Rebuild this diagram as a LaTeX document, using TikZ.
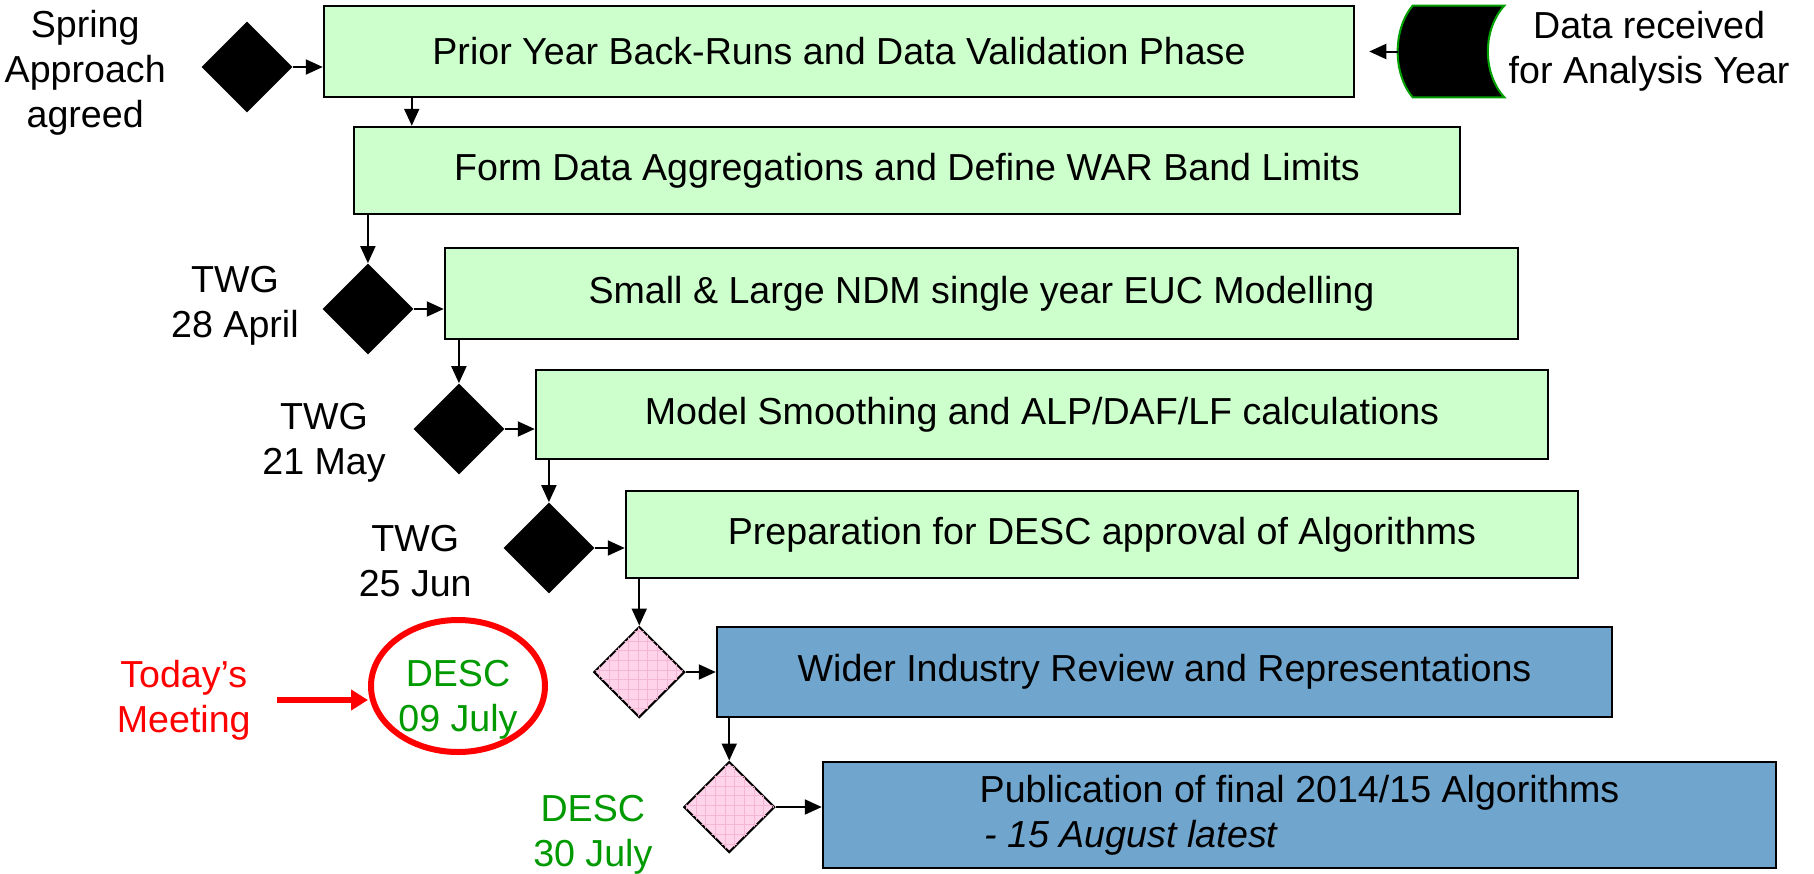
\documentclass[tikz,border=0pt]{standalone}
\usepackage{fontspec}
\setmainfont{Liberation Sans}
\usepackage{xcolor}
\usepackage{tikz}
\usetikzlibrary{arrows.meta,positioning,shapes.geometric,patterns.meta}
\definecolor{stepgreen}{HTML}{CCFFCC}
\definecolor{stepblue}{HTML}{70A6CE}
\definecolor{descgreen}{HTML}{009A00}
\definecolor{alarm}{HTML}{FF0000}
\definecolor{storegreen}{HTML}{00A000}
\definecolor{reviewpink}{HTML}{FFD3EA}
\definecolor{gridpink}{HTML}{F5B5D5}
\tikzset{
  stepbox/.style  ={draw=black,line width=0.05cm,fill=stepgreen,minimum height=1.8cm,
                    inner sep=0pt,align=center},
  bluebox/.style  ={stepbox,fill=stepblue},
  gate/.style     ={diamond,fill=black,minimum width=1.82cm,minimum height=1.82cm,
                    inner sep=0pt},
  pinkgate/.style ={gate,draw=black,line width=0.04cm,fill=reviewpink,
                    postaction={pattern={Hatch[distance=5.5pt,line width=0.4pt]},
                                pattern color=gridpink}},
  note/.style     ={align=center,inner sep=0pt},
  storeshape/.style={fill=black,draw=storegreen,line width=0.04cm},
  flow/.style     ={-{Triangle[length=0.34cm,width=0.3cm]},line width=0.04cm,draw=black},
  alarmflow/.style={-{Triangle[length=0.34cm,width=0.4cm]},line width=0.12cm,draw=alarm}
}
\begin{document}
\begin{tikzpicture}[every node/.style={font=\fontsize{21.4}{25.5}\selectfont}]
    \useasboundingbox (0,0) rectangle (36.28,-17.46);
    % stepped phases
    \node[stepbox,minimum width=20.6cm,minimum height=1.82cm] (backrun) at (16.78,-1.03)
        {Prior Year Back-Runs and Data Validation Phase};
    \node[stepbox,minimum width=22.12cm,minimum height=1.74cm] (aggr) at (18.14,-3.41)
        {Form Data Aggregations and Define WAR Band Limits};
    \node[stepbox,minimum width=21.46cm,minimum height=1.82cm] (euc) at (19.63,-5.87)
        {Small \& Large NDM single year EUC Modelling};
    \node[stepbox,minimum width=20.24cm,minimum height=1.78cm] (smooth) at (20.84,-8.29)
        {Model Smoothing and ALP/DAF/LF calculations};
    \node[stepbox,minimum width=19.04cm,minimum height=1.74cm] (prep) at (22.04,-10.69)
        {Preparation for DESC approval of Algorithms};
    \node[bluebox,minimum width=17.9cm] (review) at (23.29,-13.44)
        {Wider Industry Review and Representations};
    \node[bluebox,minimum width=19.06cm,minimum height=2.12cm,align=left] (publish) at (25.99,-16.30)
        {Publication of final 2014/15 Algorithms\\ \hspace*{0.1cm}\textit{- 15 August latest}};
    % decision points
    \node[gate,left=0.6cm of backrun,yshift=-0.31cm] (springgate) {};
    \node[gate,left=0.6cm of euc,yshift=-0.31cm] (twgapr) {};
    \node[gate,left=0.6cm of smooth,yshift=-0.29cm] (twgmay) {};
    \node[gate,left=0.6cm of prep,yshift=-0.27cm] (twgjun) {};
    \node[pinkgate,left=0.6cm of review] (descjul) {};
    \node[pinkgate,left=0.92cm of publish,yshift=0.16cm] (descfinal) {};
    % labels
    \node[note,left=0.7cm of springgate,yshift=-0.12cm] (springlbl) {Spring\\Approach\\agreed};
    \node[note,left=0.46cm of twgapr,yshift=0.06cm] (aprlbl) {TWG\\28 April};
    \node[note,left=0.54cm of twgmay,yshift=-0.28cm] (maylbl) {TWG\\21 May};
    \node[note,left=0.62cm of twgjun,yshift=-0.26cm] (junlbl) {TWG\\25 Jun};
    \node[note,text=descgreen,left=0.6cm of descfinal,yshift=-0.56cm] (finallbl) {DESC\\30 July};
    % incoming data
    \node[minimum width=2.12cm,minimum height=1.82cm,inner sep=0pt] (store) at (29.02,-1.03) {};
    \draw[storeshape] ([xshift=0.3cm]store.north west) -- (store.north east)
        .. controls +(-0.44,-0.48) and +(-0.44,0.48) .. (store.south east)
        -- ([xshift=0.3cm]store.south west)
        .. controls +(-0.4,0.48) and +(-0.4,-0.48) .. ([xshift=0.3cm]store.north west) -- cycle;
    \node[note,right=0.08cm of store] (storelbl) {Data received\\for Analysis Year};
    % today's meeting
    \node[ellipse,draw=alarm,line width=0.12cm,minimum width=3.48cm,minimum height=2.64cm,
          inner sep=0pt] (desc) at (9.16,-13.72) {};
    \node[note,text=descgreen] (desclbl) at ([yshift=-0.28cm]desc.center) {DESC\\09 July};
    \node[note,text=alarm,left=2.34cm of desc,yshift=-0.28cm] (today) {Today's\\Meeting};
    \draw[alarmflow,shorten <=0.52cm] (today.east) -- (today.east -| desc.west);
    % connectors
    \coordinate (split) at ([xshift=1.78cm]backrun.south west);
    \draw[flow] (split) -- (split |- aggr.north);
    \draw[flow,shorten >=0.28cm] (store.west) -- (store.west -| backrun.east);
    \draw[flow] (springgate.east) -- (springgate.east -| backrun.west);
    \draw[flow] (aggr.south -| twgapr.north) -- (twgapr.north);
    \draw[flow] (twgapr.east) -- (twgapr.east -| euc.west);
    \draw[flow] (euc.south -| twgmay.north) -- (twgmay.north);
    \draw[flow] (twgmay.east) -- (twgmay.east -| smooth.west);
    \draw[flow] (smooth.south -| twgjun.north) -- (twgjun.north);
    \draw[flow] (twgjun.east) -- (twgjun.east -| prep.west);
    \draw[flow] (prep.south -| descjul.north) -- (descjul.north);
    \draw[flow] (descjul.east) -- (descjul.east -| review.west);
    \draw[flow] (review.south -| descfinal.north) -- (descfinal.north);
    \draw[flow] (descfinal.east) -- (descfinal.east -| publish.west);
\end{tikzpicture}
\end{document}
